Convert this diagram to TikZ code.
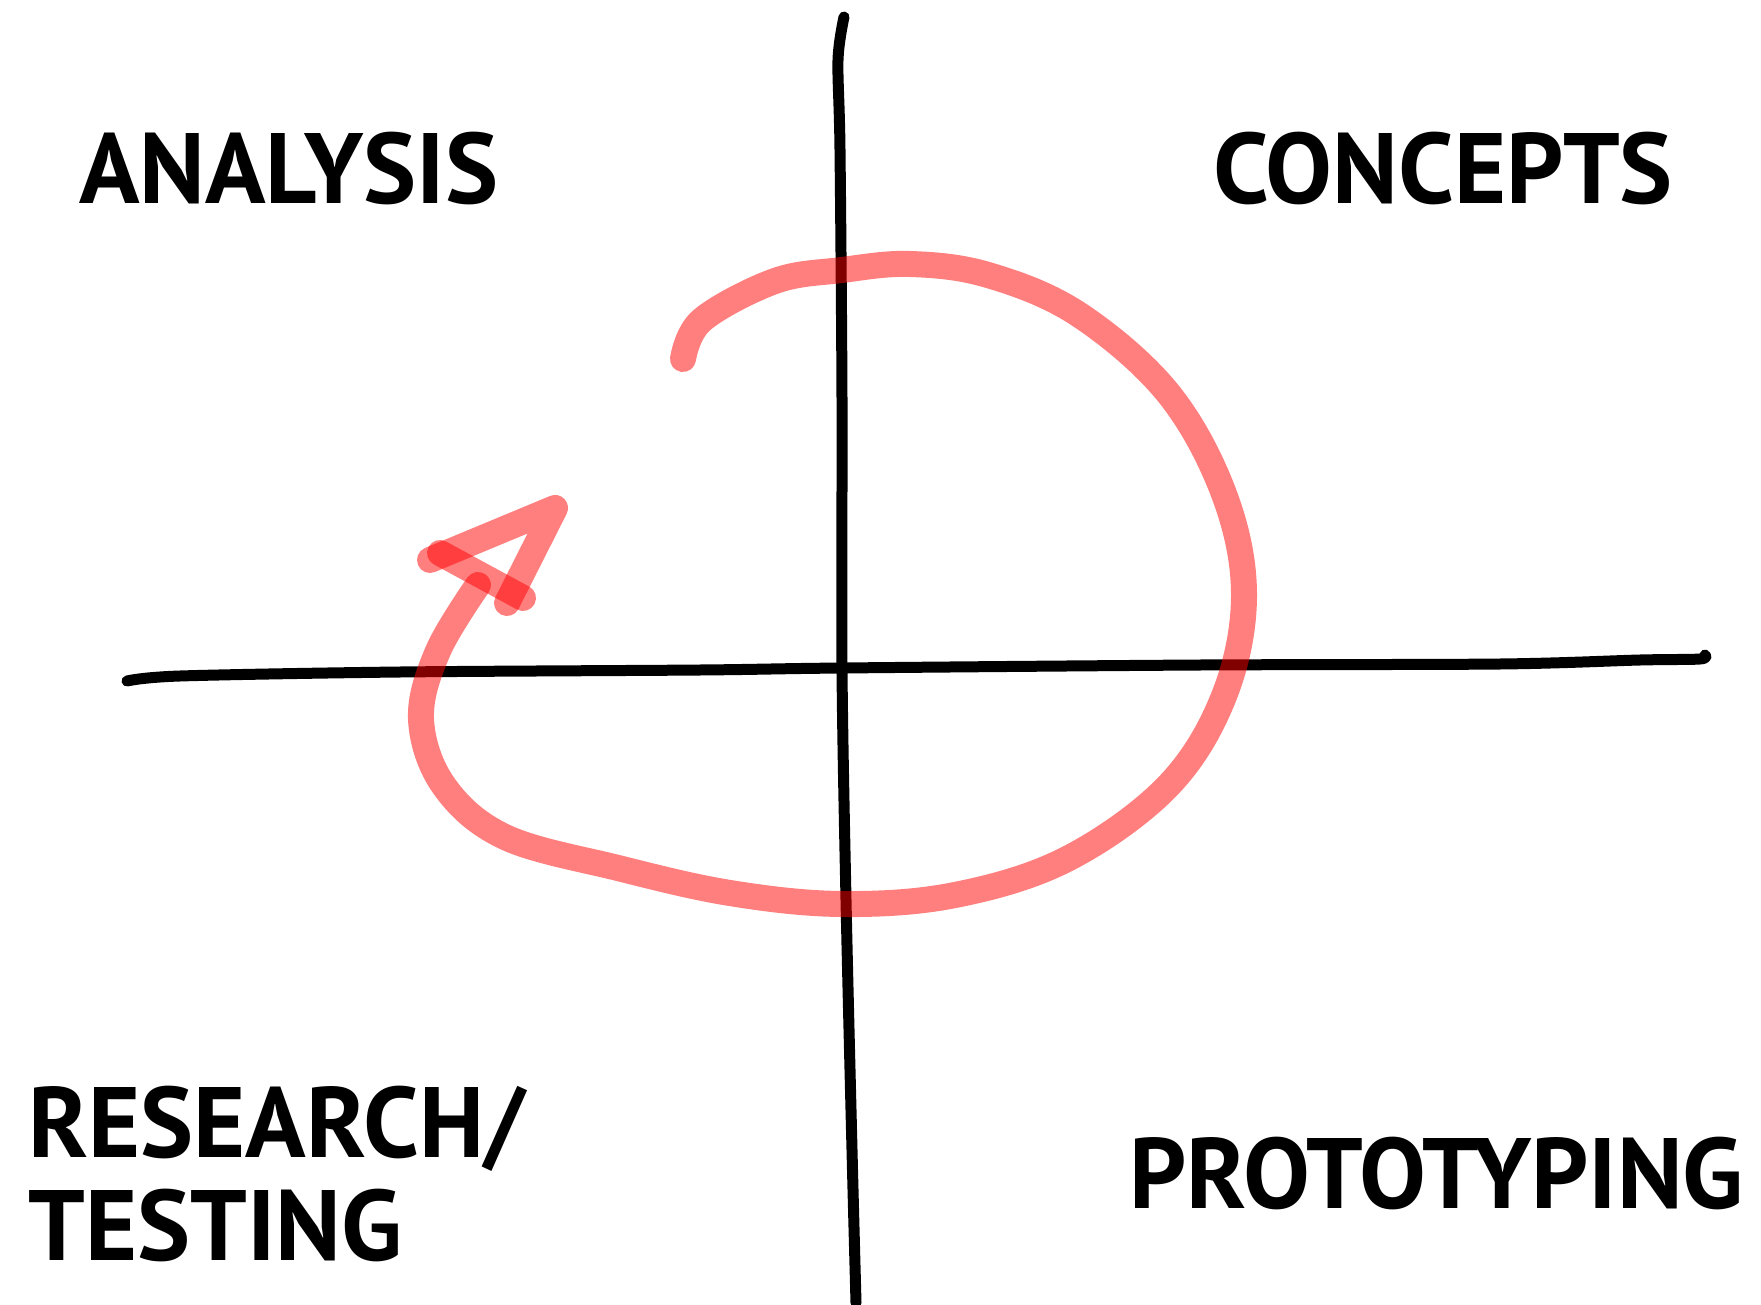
\documentclass[tikz,border=0pt]{standalone}
\usepackage{fontspec}
\setmainfont{PT Sans}
\usetikzlibrary{positioning}
\definecolor{loopred}{RGB}{255,0,0}
\colorlet{ink}{black}
\tikzset{
  axisline/.style={ink, line width=11pt, line cap=round, line join=round},
  loopline/.style={loopred, opacity=0.5, line width=26pt, line cap=round, line join=round},
  phase/.style={anchor=base west, inner sep=0pt, font=\fontsize{100}{110}\selectfont\bfseries}
}

\begin{document}
\begin{tikzpicture}[x=1pt, y=-1pt]
  \useasboundingbox (0,0) rectangle (1761,1305);
  % axes
  \draw[axisline] plot[smooth, tension=0.5] coordinates {(844,17) (838,60) (840,150) (842,400) (842,668) (846,900) (852,1150) (856,1303)};
  \draw[axisline] plot[smooth, tension=0.5] coordinates {(127,681) (180,676) (400,672) (700,670) (842,668) (1200,665) (1500,664) (1640,660) (1700,659) (1705,655)};
  % loop
  \draw[loopline] plot[smooth, tension=0.6] coordinates {(683,359) (702,320) (775,281) (842,270) (910,264) (988,275) (1078,314) (1168,393) (1224,494) (1244,595) (1224,696) (1168,786) (1067,859) (955,895) (842,904) (730,893) (618,868) (505,837) (444,786) (421,719) (438,651) (478,585)};
  \draw[loopline] (430,560) -- (555,508) -- (507,603);
  \draw[loopline] (440,553) -- (523,598);
  % quadrant labels
  \node[phase] (analysis) at (79,204) {ANALYSIS};
  \node[phase] (concepts) at (1213,204) {CONCEPTS};
  \node[phase] (research) at (28,1157) {RESEARCH/};
  \node[phase] (testing) at (28,1260) {TESTING};
  \node[phase] (proto) at (1129,1208) {PROTOTYPING};
\end{tikzpicture}
\end{document}
